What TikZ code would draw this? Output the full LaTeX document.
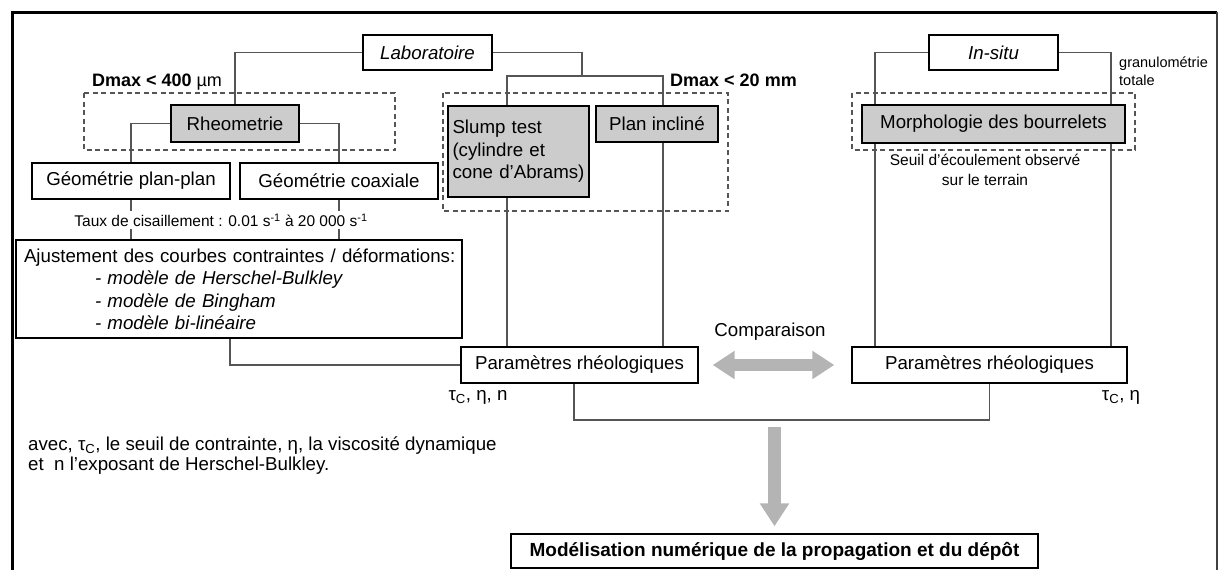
\documentclass[tikz,border=0pt]{standalone}
\usepackage{fontspec}
\setmainfont{Liberation Sans}
\usetikzlibrary{arrows.meta,backgrounds}
\definecolor{boxgray}{RGB}{204,204,204}
\definecolor{arrgray}{RGB}{180,180,180}
\definecolor{lingray}{RGB}{85,85,85}
\newcommand{\txtn}{\fontsize{18.7}{22.5}\selectfont}
\newcommand{\txts}{\fontsize{15.5}{20}\selectfont}
\tikzset{
  box/.style={draw, line width=1.4pt, fill=white, inner sep=4pt, font=\txtn},
  gbox/.style={box, fill=boxgray},
  conn/.style={lingray, line width=1.2pt},
  dbox/.style={lingray, line width=1.3pt, dash pattern=on 5pt off 3.5pt},
  garr/.style={arrgray, line width=13pt, -{Triangle[width=28pt,length=23pt]}},
  garrd/.style={arrgray, line width=12pt, {Triangle[width=27pt,length=22pt]}-{Triangle[width=27pt,length=22pt]}},
  tlab/.style={font=\txtn, inner sep=1pt},
  slab/.style={font=\txts, inner sep=1pt},
  blab/.style={font=\fontsize{18}{21}\selectfont\bfseries, inner sep=1pt},
}

\begin{document}
\begin{tikzpicture}[x=1pt,y=-1pt]
\useasboundingbox (0,0) rectangle (1220,570);
% frame
\draw[line width=3pt] (12,570) -- (12,12) -- (1217,12);
\draw[line width=1.5pt, black!75] (1217,12) -- (1217,570);

% top level
\node[box, minimum width=129pt, minimum height=35pt] (lab) at (427.5,52.5) {\itshape Laboratoire};
\node[box, minimum width=129pt, minimum height=35pt] (insitu) at (993.5,52.5) {\itshape In-situ};
\node[tlab, anchor=west, align=left, font=\fontsize{14.5}{18}\selectfont] (gran) at (1118,71) {granulométrie\\totale};
\node[blab] (dmaxa) at (157,82) {Dmax < 400 \textmd{µm}};
\node[blab] (dmaxb) at (733.5,80) {Dmax < 20 mm};

% tests
\node[gbox, minimum width=128pt, minimum height=37pt] (rheo) at (235,123.5) {Rheometrie};
\node[gbox, text width=132pt, inner xsep=4.5pt, minimum height=91pt, align=left] (slump) at (518.5,151.5)
  {Slump test\\(cylindre et\\cone d'Abrams)};
\node[gbox, minimum width=122pt, minimum height=36pt] (plan) at (657,124) {Plan incliné};
\node[gbox, minimum width=263pt, minimum height=38pt] (morph) at (993.5,124) {Morphologie des bourrelets};
\node[slab, align=center] (seuil) at (985,170) {Seuil d'écoulement observé\\sur le terrain};

% rheometrie branch
\node[box, minimum width=198pt, minimum height=36pt] (pp) at (131,181) {Géométrie plan-plan};
\node[box, minimum width=198pt, minimum height=36pt] (coax) at (339,181) {Géométrie coaxiale};
\node[slab, fill=white, inner sep=3pt] (taux) at (221,220)
  {Taux de cisaillement : 0.01 s\textsuperscript{-1} à 20 000 s\textsuperscript{-1}};
\node[box, text width=438pt, inner xsep=4pt, minimum height=98pt, align=left] (ajust) at (239,289)
  {\hspace*{4pt}\mbox{Ajustement des courbes contraintes / déformations:}\\
   \hspace*{75pt}\textit{- modèle de Herschel-Bulkley}\\
   \hspace*{75pt}\textit{- modèle de Bingham}\\
   \hspace*{75pt}\textit{- modèle bi-linéaire}};

% results
\node[box, minimum width=237pt, minimum height=36pt] (para) at (579.5,365) {Paramètres rhéologiques};
\node[box, minimum width=275pt, minimum height=36pt] (parb) at (989.5,365) {Paramètres rhéologiques};
\node[tlab] (comp) at (770,332) {Comparaison};
\node[tlab] (taua) at (478,397) {τ\textsubscript{C}, η, n};
\node[tlab] (taub) at (1121,397) {τ\textsubscript{C}, η};
\node[tlab, anchor=west, align=left, font=\fontsize{18.7}{19.5}\selectfont] (avec) at (27,455.5)
  {avec, τ\textsubscript{C}, le seuil de contrainte, η, la viscosité dynamique\\et~ n l'exposant de Herschel-Bulkley.};
\node[box, minimum width=527pt, minimum height=34pt, font=\fontsize{19}{22}\selectfont\bfseries] (model) at (774.5,551)
  {Modélisation numérique de la propagation et du dépôt};

\coordinate (labsplit) at (582,76);
\coordinate (merge) at (774.5,420);

\begin{scope}[on background layer]
\draw[dbox] (84,93) rectangle (395,150);
\draw[dbox] (443,93) rectangle (728,211);
\draw[dbox] (852,93) rectangle (1135,150);
\draw[conn] (lab.west) -| (rheo.north);
\draw[conn] (lab.east) -| (labsplit);
\draw[conn] ([xshift=-72.5pt]para.north) |- (labsplit) -| ([xshift=83.5pt]para.north);
\draw[conn] (insitu.west) -| ([xshift=-114.5pt]parb.north);
\draw[conn] (insitu.east) -| ([xshift=121.5pt]parb.north);
\draw[conn] (rheo.west) -| (pp.north);
\draw[conn] (rheo.east) -| (coax.north);
\draw[conn] (pp.south) -- (pp.south |- ajust.north);
\draw[conn] (coax.south) -- (coax.south |- ajust.north);
\draw[conn] ([xshift=-9pt]ajust.south) |- (para.west);
\draw[conn] ([xshift=-5.5pt]para.south) |- (merge) -| (parb.south);
\end{scope}

\draw[garrd, shorten <=14pt, shorten >=17pt] (para.east) -- (parb.west);
\draw[garr] ([yshift=-7pt]merge) -- ([yshift=7pt]model.north);
\end{tikzpicture}
\end{document}
